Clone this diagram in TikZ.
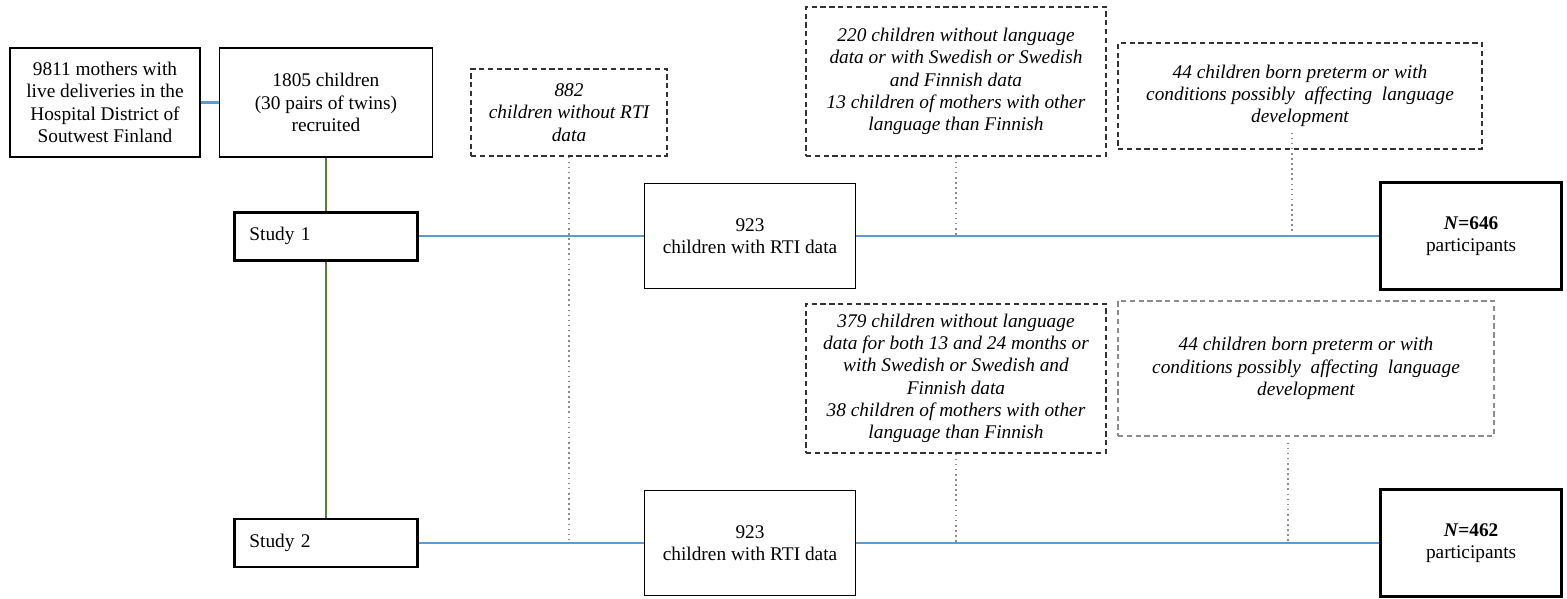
\documentclass[tikz,border=0pt]{standalone}
\usepackage{fontspec}
\setmainfont{Liberation Serif}
\usetikzlibrary{positioning}
\definecolor{linkblue}{HTML}{5B9BD5}
\definecolor{linkgreen}{HTML}{548235}
\definecolor{dotgray}{HTML}{8C8C8C}

\begin{document}
\begin{tikzpicture}[
    every node/.style={font=\fontsize{11}{12.7}\selectfont, align=center},
    box/.style={draw, rectangle, line width=0.8pt},
    thickbox/.style={draw, rectangle, line width=1.6pt},
    exclbox/.style={draw=black!80, rectangle, line width=0.7pt, dash pattern=on 3pt off 2pt, font=\fontsize{11}{12.7}\selectfont\itshape},
    flow/.style={draw=linkblue, line width=1.5pt},
    exclline/.style={draw=dotgray, line width=0.9pt, dotted}
]
    \useasboundingbox (0,0) rectangle (31.34,-11.98);

    % recruitment
    \node (moth) [box, minimum width=3.8cm, minimum height=2.18cm] at (2.1,-2.05) {9811 mothers with\\live deliveries in the\\Hospital District of\\Soutwest Finland};
    \node (rec) [box, right=0.36cm of moth, minimum width=4.26cm, minimum height=2.18cm] {1805 children\\(30 pairs of twins)\\recruited};

    % study 1 row
    \node (st1) [thickbox, below=1.06cm of rec, minimum width=3.66cm, minimum height=0.96cm, text width=3.06cm, inner xsep=0.3cm, align=left] {Study 1};
    \node (rti1) [box, right=4.5cm of st1, minimum width=4.22cm, minimum height=2.1cm] {923\\children with RTI data};
    \node (part1) [thickbox, right=10.46cm of rti1, minimum width=3.62cm, minimum height=2.14cm] {\textbf{\textit{N}=646}\\participants};

    % study 2 row
    \node (st2) [thickbox, below=5.12cm of st1, minimum width=3.66cm, minimum height=0.96cm, text width=3.06cm, inner xsep=0.3cm, align=left] {Study 2};
    \node (rti2) [box, right=4.5cm of st2, minimum width=4.22cm, minimum height=2.1cm] {923\\children with RTI data};
    \node (part2) [thickbox, right=10.46cm of rti2, minimum width=3.62cm, minimum height=2.14cm] {\textbf{\textit{N}=462}\\participants};

    % exclusions
    \node (excl1) [exclbox, minimum width=3.92cm, minimum height=1.74cm] at (11.38,-2.25) {882\\children without RTI\\data};
    \node (lang1) [exclbox, minimum width=6cm, minimum height=2.98cm] at (19.12,-1.63) {220 children without language\\data or with Swedish or Swedish\\and Finnish data\\13 children of mothers with other\\language than Finnish};
    \node (pre1) [exclbox, minimum width=7.28cm, minimum height=2.12cm] at (26,-1.92) {44 children born preterm or with\\conditions possibly~ affecting~ language\\development};
    \node (lang2) [exclbox, minimum width=6cm, minimum height=2.98cm] at (19.12,-7.57) {379 children without language\\data for both 13 and 24 months or\\with Swedish or Swedish and\\Finnish data\\38 children of mothers with other\\language than Finnish};
    \node (pre2) [exclbox, draw=dotgray, minimum width=7.52cm, minimum height=2.7cm] at (26.12,-7.37) {44 children born preterm or with\\conditions possibly~ affecting~ language\\development};

    \coordinate (pre1x) at ([xshift=-0.16cm, yshift=0.34cm]pre1.south);
    \coordinate (pre2x) at ([xshift=-0.36cm, yshift=-0.12cm]pre2.south);

    \draw[flow] (moth) -- (rec);
    \draw[linkgreen, line width=1pt] (rec) -- (st1);
    \draw[linkgreen, line width=1pt] (st1) -- (st2);

    \draw[flow] (st1) -- (rti1);
    \draw[flow] (rti1) -- (part1);
    \draw[flow] (st2) -- (rti2);
    \draw[flow] (rti2) -- (part2);

    \draw[exclline] (excl1) -- (excl1 |- st2);
    \draw[exclline] (lang1) -- (lang1 |- rti1);
    \draw[exclline] (pre1x) -- (pre1x |- rti1);
    \draw[exclline] (lang2) -- (lang2 |- rti2);
    \draw[exclline] (pre2x) -- (pre2x |- rti2);

\end{tikzpicture}
\end{document}
